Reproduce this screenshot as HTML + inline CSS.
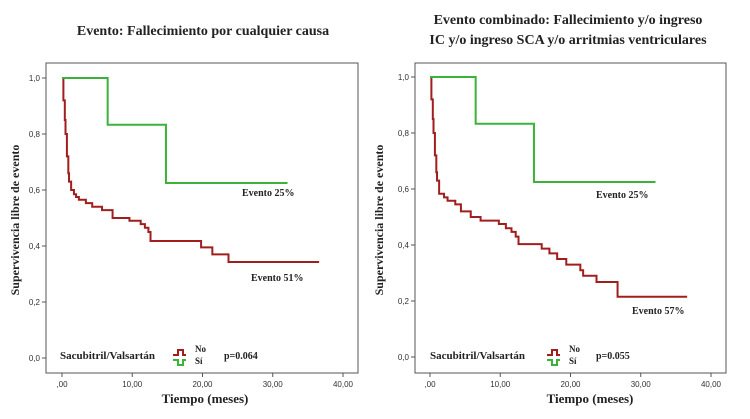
<!DOCTYPE html>
<html><head><meta charset="utf-8"><style>
body{margin:0;background:#fff;width:750px;height:419px;overflow:hidden}
svg{display:block}
.ser{font-family:"Liberation Serif",serif;font-weight:bold;fill:#222}
.tk{font-family:"Liberation Sans",sans-serif;font-size:8px;fill:#333}
</style></head><body>
<svg id="c" width="750" height="419"></svg>
<script>
const yTicks=[0,0.2,0.4,0.6,0.8,1.0];
const yTickLabels=["0,0","0,2","0,4","0,6","0,8","1,0"];
const xTicks=[0,10,20,30,40];
const xTickLabels=[",00","10,00","20,00","30,00","40,00"];
// Left panel: death from any cause
const leftNoTimes=[0,0.2,0.4,0.5,0.7,0.9,1.0,1.3,1.7,2.0,2.4,3.4,4.3,5.7,7.2,9.6,11.2,11.8,12.3,12.6,19.8,21.4,23.7,36.6];
const leftNoSurv=[1.0,0.92,0.85,0.8,0.72,0.66,0.63,0.6,0.585,0.575,0.565,0.553,0.54,0.528,0.5,0.49,0.478,0.465,0.45,0.418,0.395,0.37,0.343,0.343];
const leftSiTimes=[0,6.5,14.8,32.1];
const leftSiSurv=[1.0,0.833,0.625,0.625];
// Right panel: combined event
const rightNoTimes=[0,0.2,0.4,0.5,0.7,0.9,1.0,1.3,2.0,2.5,3.6,4.4,5.8,7.2,9.8,10.8,11.6,12.2,12.6,15.9,17.0,18.1,19.4,21.4,21.8,23.7,26.7,36.6];
const rightNoSurv=[1.0,0.92,0.85,0.8,0.72,0.66,0.63,0.583,0.57,0.558,0.545,0.52,0.5,0.487,0.475,0.46,0.447,0.43,0.403,0.387,0.37,0.35,0.33,0.31,0.29,0.268,0.215,0.215];
const rightSiTimes=[0,6.5,14.8,32.1];
const rightSiSurv=[1.0,0.833,0.625,0.625];

const svg=document.getElementById('c');
const NS="http://www.w3.org/2000/svg";
function mk(tag,at,txt){const e=document.createElementNS(NS,tag);for(const k in at)e.setAttribute(k,at[k]);if(txt!=null)e.textContent=txt;svg.appendChild(e);return e;}

function panel(p){
  const sx=t=>p.x0+(p.x40-p.x0)*t/40;
  const sy=v=>p.y0+(p.y1-p.y0)*v;
  let e=mk('rect',{x:p.fl,y:63,width:p.fr-p.fl,height:310,fill:'none',stroke:'#555','stroke-width':1});
  
  
  yTicks.forEach((v,i)=>{
    const t=mk('line',{x1:p.fl-4,x2:p.fl,y1:sy(v),y2:sy(v),stroke:'#555'});
    
    
    const l=mk('text',{x:p.fl-6,y:sy(v)+3,'text-anchor':'end',class:'tk'},yTickLabels[i]);
    
    
  });
  xTicks.forEach((v,i)=>{
    const t=mk('line',{x1:sx(v),x2:sx(v),y1:373,y2:377,stroke:'#555'});
    
    
    const l=mk('text',{x:sx(v),y:387,'text-anchor':'middle',class:'tk'},xTickLabels[i]);
    
    
  });
  function curve(ts,vs,col,name){
    let d='M'+sx(ts[0])+','+sy(vs[0]);
    for(let i=1;i<ts.length;i++){d+=' H'+sx(ts[i])+' V'+sy(vs[i]);}
    const c=mk('path',{d:d,fill:'none',stroke:col,'stroke-width':2});
    
    
  }
  curve(p.noT,p.noS,'#a01e1e',p.id+'-curve-no');
  curve(p.siT,p.siS,'#3bb33b',p.id+'-curve-si');
  let t=mk('text',{x:p.xc,y:403,'text-anchor':'middle',class:'ser','font-size':13},'Tiempo (meses)');
  
  
  t=mk('text',{x:0,y:0,transform:`translate(${p.yx},220) rotate(-90)`,'text-anchor':'middle',class:'ser','font-size':12},'Supervivencia libre de evento');
  
  
  p.ann.forEach(a=>{
    const e=mk('text',{x:a[0],y:a[1],class:'ser','font-size':10},a[2]);
    
    
  });
  e=mk('text',{x:p.lx,y:359,class:'ser','font-size':11},'Sacubitril/Valsartán');
  
  
  e=mk('path',{d:`M${p.ix},355 h5 v-5 h5 v5 h3`,fill:'none',stroke:'#a01e1e','stroke-width':2});
  
  
  e=mk('path',{d:`M${p.ix},360 h5 v5 h5 v-5 h3`,fill:'none',stroke:'#3bb33b','stroke-width':2});
  
  
  e=mk('text',{x:p.ix+22,y:352,class:'ser','font-size':9,'font-weight':'normal'},'No');
  
  
  e=mk('text',{x:p.ix+22,y:364,class:'ser','font-size':9,'font-weight':'normal'},'Sí');
  
  
  e=mk('text',{x:p.px,y:359,class:'ser','font-size':10},p.pv);
  
  
}
panel({id:'left',fl:46,fr:358,x0:62,x40:343,y0:358,y1:78,xc:205,yx:19,noT:leftNoTimes,noS:leftNoSurv,siT:leftSiTimes,siS:leftSiSurv,
  ann:[[242,196,'Evento 25%'],[251,281,'Evento 51%']],lx:60,ix:173,px:224,pv:'p=0.064'});
panel({id:'right',fl:415,fr:726,x0:430,x40:711,y0:357,y1:77,xc:590,yx:383,noT:rightNoTimes,noS:rightNoSurv,siT:rightSiTimes,siS:rightSiSurv,
  ann:[[596,198,'Evento 25%'],[632,314,'Evento 57%']],lx:430,ix:547,px:596,pv:'p=0.055'});
let t=mk('text',{x:203,y:35,'text-anchor':'middle',class:'ser','font-size':14},'Evento: Fallecimiento por cualquier causa');


t=mk('text',{x:568,y:24,'text-anchor':'middle',class:'ser','font-size':14},'Evento combinado: Fallecimiento y/o ingreso');


t=mk('text',{x:568,y:44,'text-anchor':'middle',class:'ser','font-size':14},'IC y/o ingreso SCA y/o arritmias ventriculares');


</script>
</body></html>
